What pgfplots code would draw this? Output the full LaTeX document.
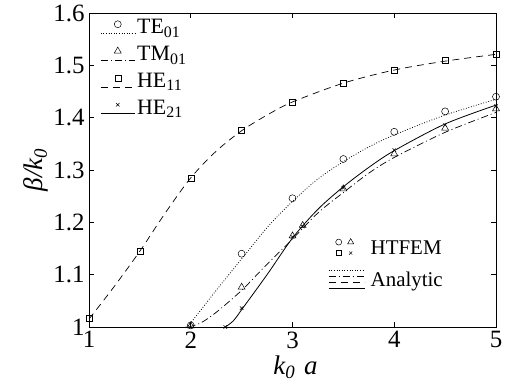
\documentclass[border=0pt]{standalone}
\usepackage{fontspec}
\setmainfont{Liberation Serif}
\usepackage{pgfplots}
\pgfplotsset{compat=1.18}
\tikzset{
  mdot/.style={dash pattern=on 0.8bp off 1.8bp, line width=0.8bp},
  mdash/.style={dash pattern=on 7bp off 5bp, line width=0.7bp},
  mdashdot/.style={dash pattern=on 7bp off 3bp on 1bp off 3bp, line width=0.7bp},
  msolid/.style={solid, line width=0.8bp},
}
\newcommand{\sub}[1]{\raisebox{-0.35ex}{\fontsize{16}{16}\selectfont #1}}
\begin{document}
\begin{tikzpicture}
\begin{axis}[
  scale only axis, width=407bp, height=314bp,
  xmin=1, xmax=5, ymin=1, ymax=1.6,
  xtick={1,2,3,4,5}, ytick={1,1.1,1.2,1.3,1.4,1.5,1.6},
  yticklabels={1,1.1,1.2,1.3,1.4,1.5,1.6},
  tick align=inside, major tick length=5bp,
  tick style={black, line width=0.6bp},
  axis line style={line width=0.9bp},
  ticklabel style={font=\fontsize{25}{25}\selectfont},
  yticklabel style={xshift=-1bp},
  xticklabel style={yshift=-1bp},
  /pgf/number format/assume math mode=true,
  xlabel={\itshape k\textsubscript{0}\,\,a},
  ylabel={\itshape β/k\textsubscript{0}},
  label style={font=\fontsize{27}{27}\selectfont},
  xlabel style={yshift=-1bp, xshift=3bp},
  ylabel style={yshift=-2bp},
  clip=false,
  legend style={at={(0.025,0.99)}, anchor=north west, draw=none, fill=none,
    font=\fontsize{22}{22}\selectfont, row sep=7bp, inner sep=1bp},
  legend cell align=left,
  legend image code/.code={
    \draw[#1, mark=none] (0bp,-6bp) -- (34bp,-6bp);
    \draw[#1, only marks] plot coordinates {(17bp,3bp)};
  },
  every axis plot/.append style={black},
  mark options={solid, black, line width=0.5bp},
]
\addlegendimage{mdot, mark=o, mark size=3.5bp}
\addlegendentry{TE\sub{01}}
\addlegendimage{mdashdot, mark=triangle, mark size=4bp}
\addlegendentry{TM\sub{01}}
\addlegendimage{mdash, mark=square, mark size=3bp}
\addlegendentry{HE\sub{11}}
\addlegendimage{msolid, mark=x, mark size=2.5bp}
\addlegendentry{HE\sub{21}}

% Analytic curves
\addplot[mdot, smooth, forget plot] coordinates {
 (1.95,1.0) (2.0,1.008) (2.25,1.07) (2.5,1.13) (2.75,1.19) (3.0,1.24)
 (3.25,1.283) (3.5,1.316) (3.75,1.344) (4.0,1.367) (4.5,1.405) (5.0,1.435)};
\addplot[mdashdot, smooth, forget plot] coordinates {
 (1.98,1.0) (2.1,1.008) (2.25,1.028) (2.5,1.07) (2.75,1.12) (3.0,1.168)
 (3.25,1.218) (3.5,1.257) (3.75,1.294) (4.0,1.324) (4.5,1.372) (5.0,1.41)};
\addplot[mdash, smooth, forget plot] coordinates {
 (1.0,1.015) (1.25,1.078) (1.5,1.145) (1.75,1.218) (2.0,1.285) (2.25,1.336)
 (2.5,1.375) (2.75,1.405) (3.0,1.43) (3.5,1.466) (4.0,1.491) (4.5,1.508) (5.0,1.521)};
\addplot[msolid, smooth, forget plot] coordinates {
 (2.34,1.0) (2.42,1.012) (2.5,1.033) (2.75,1.1) (3.0,1.17) (3.25,1.225)
 (3.5,1.268) (3.75,1.305) (4.0,1.337) (4.5,1.388) (5.0,1.424)};

% HTFEM points
\addplot[only marks, mark=o, mark size=3.5bp, forget plot] coordinates {
 (2,1.003) (2.5,1.14) (3,1.246) (3.5,1.321) (4,1.373) (4.5,1.412) (5,1.44)};
\addplot[only marks, mark=triangle, mark size=4bp, forget plot] coordinates {
 (2,1.002) (2.5,1.076) (3,1.174) (3.1,1.194) (3.5,1.264) (4,1.331) (4.5,1.38) (5,1.417)};
\addplot[only marks, mark=square, mark size=3bp, forget plot] coordinates {
 (1,1.017) (1.5,1.145) (2,1.285) (2.5,1.375) (3,1.43) (3.5,1.466) (4,1.491) (4.5,1.509) (5,1.522)};
\addplot[only marks, mark=x, mark size=2.5bp, forget plot] coordinates {
 (2.34,1.0) (2.5,1.036) (3,1.172) (3.1,1.192) (3.5,1.266) (4,1.338) (4.5,1.386) (5,1.422)};
\end{axis}

\begin{axis}[
  scale only axis, width=407bp, height=314bp,
  xmin=1, xmax=5, ymin=1, ymax=1.6, hide axis,
  legend style={at={(0.585,0.115)}, anchor=south west, draw=none, fill=none,
    font=\fontsize{21}{21}\selectfont, row sep=12bp, inner sep=1bp},
  legend cell align=left,
]
\addlegendimage{legend image code/.code={
  \begin{scope}[black, line width=0.5bp]
  \path[draw=none] (0bp,0bp) -- (40bp,0bp);
  \draw plot[mark=o, mark size=3bp] coordinates {(10bp,6bp)};
  \draw plot[mark=triangle, mark size=3.5bp] coordinates {(22bp,6bp)};
  \draw plot[mark=square, mark size=2.5bp] coordinates {(10bp,-5bp)};
  \draw plot[mark=x, mark size=2.2bp] coordinates {(22bp,-5bp)};
  \end{scope}
}}
\addlegendentry{HTFEM}
\addlegendimage{legend image code/.code={
  \begin{scope}[black]
  \path[draw=none] (0bp,0bp) -- (40bp,0bp);
  \draw[mdot] (0bp,9bp) -- (36bp,9bp);
  \draw[mdashdot] (0bp,3bp) -- (36bp,3bp);
  \draw[mdash] (0bp,-3bp) -- (36bp,-3bp);
  \draw[msolid] (0bp,-9bp) -- (36bp,-9bp);
  \end{scope}
}}
\addlegendentry{Analytic}
\end{axis}
\pgfresetboundingbox
\path ([xshift=-89bp,yshift=-63bp]current axis.south west) rectangle ([xshift=12bp,yshift=13bp]current axis.north east);
\end{tikzpicture}
\end{document}
